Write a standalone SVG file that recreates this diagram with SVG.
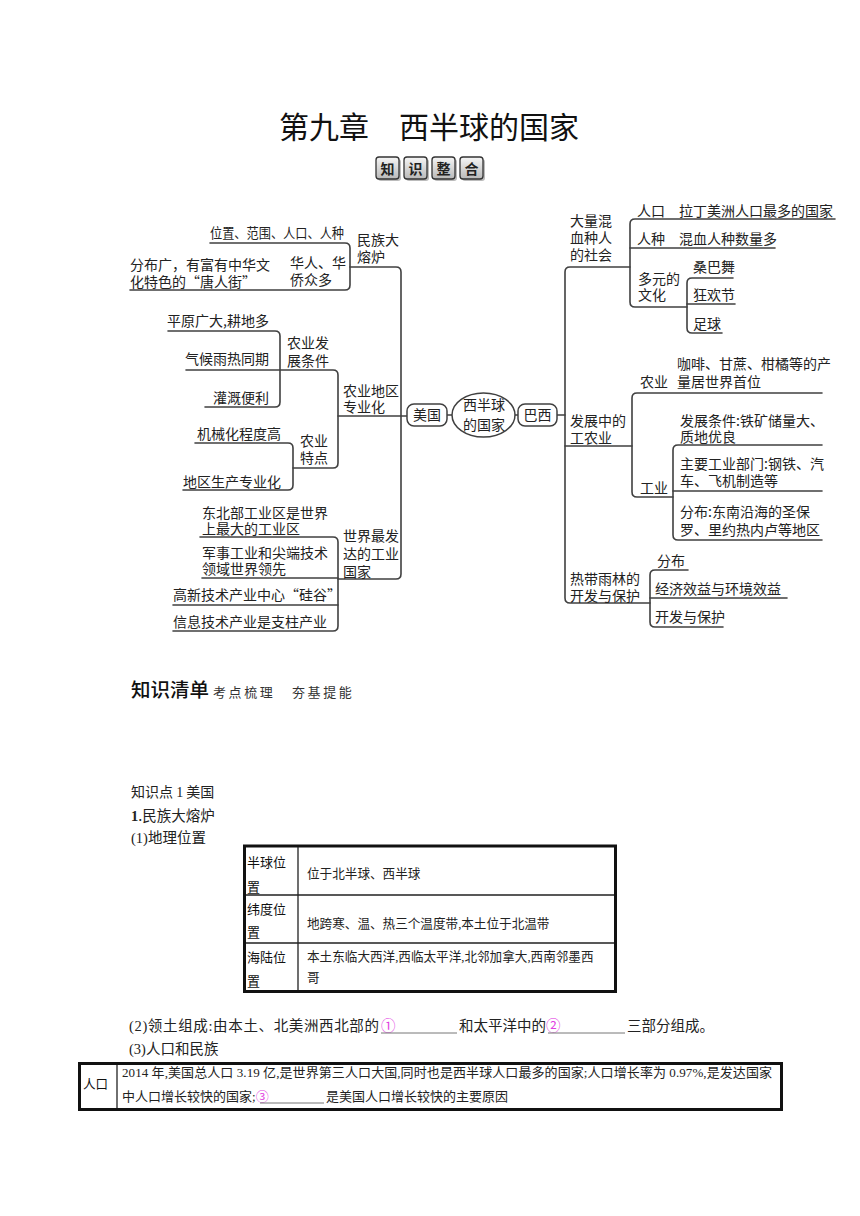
<svg xmlns="http://www.w3.org/2000/svg" width="860" height="1216" viewBox="0 0 860 1216">
<defs>
<linearGradient id="bg" x1="0" y1="0" x2="0" y2="1">
<stop offset="0" stop-color="#f6f6f6"/><stop offset="1" stop-color="#b9b9b9"/>
</linearGradient>
<style>
.t{font-family:"Noto Sans CJK SC","Noto Sans",sans-serif;font-size:14px;fill:#222}
.s{font-family:"Liberation Serif","Noto Sans CJK SC",serif;fill:#222}
.ln{fill:none;stroke:#404040;stroke-width:1.6;stroke-linecap:round;stroke-linejoin:round}
.bx{fill:#fff;stroke:#404040;stroke-width:1.5}
.bd{fill:url(#bg);stroke:#333;stroke-width:1.3}
.sh{fill:#bbb}
.mg{fill:#e23ee2}
.ul{stroke:#777;stroke-width:1}
</style>
</defs>
<rect width="860" height="1216" fill="#fff"/>

<g id="title">
<text x="279" y="138" class="t" style="font-size:30px;fill:#111">第九章　西半球的国家</text>
</g>
<g id="badge">
<rect x="378" y="159" width="23" height="22" rx="3" class="sh"/>
<rect x="406" y="159" width="23" height="22" rx="3" class="sh"/>
<rect x="434" y="159" width="23" height="22" rx="3" class="sh"/>
<rect x="462" y="159" width="23" height="22" rx="3" class="sh"/>
<rect x="376" y="157" width="23" height="22" rx="3" class="bd"/>
<rect x="404" y="157" width="23" height="22" rx="3" class="bd"/>
<rect x="432" y="157" width="23" height="22" rx="3" class="bd"/>
<rect x="460" y="157" width="23" height="22" rx="3" class="bd"/>
<text x="380.5" y="174" class="t" style="font-size:14px;font-weight:bold">知</text>
<text x="408.5" y="174" class="t" style="font-size:14px;font-weight:bold">识</text>
<text x="436.5" y="174" class="t" style="font-size:14px;font-weight:bold">整</text>
<text x="464.5" y="174" class="t" style="font-size:14px;font-weight:bold">合</text>
</g>

<g id="connectors">
<path class="ln" d="M210,243 H345 Q350,243 350,248 V285 Q350,290 345,290 H130"/>
<path class="ln" d="M350,267 H396 Q401,267 401,272 V574 Q401,579 396,579 H338"/>
<path class="ln" d="M168,331 H275 Q280,331 280,336 V402 Q280,407 275,407 H205"/>
<path class="ln" d="M186,370 H333 Q338,370 338,375 V463 Q338,468 333,468 H293"/>
<path class="ln" d="M195,443 H288 Q293,443 293,448 V485 Q293,490 288,490 H183"/>
<path class="ln" d="M338,416 H407"/>
<path class="ln" d="M200,537 H333 Q338,537 338,542 V626 Q338,631 333,631 H173"/>
<path class="ln" d="M202,578 H338"/>
<path class="ln" d="M173,605 H338"/>
<path class="ln" d="M447,415 H452 M515,415 H518 M557,415 H565"/>
<path class="ln" d="M630,267 H570 Q565,267 565,272 V598 Q565,603 570,603 H650"/>
<path class="ln" d="M835,219 H635 Q630,219 630,224 V302 Q630,307 635,307 H687"/>
<path class="ln" d="M630,248 H775"/>
<path class="ln" d="M733,278 H692 Q687,278 687,283 V328 Q687,333 692,333 H722"/>
<path class="ln" d="M687,304 H735"/>
<path class="ln" d="M565,446 H632"/>
<path class="ln" d="M822,393 H637 Q632,393 632,398 V492 Q632,497 637,497 H673"/>
<path class="ln" d="M822,445 H678 Q673,445 673,450 V535 Q673,540 678,540 H822"/>
<path class="ln" d="M673,491 H822"/>
<path class="ln" d="M688,570 H655 Q650,570 650,575 V622 Q650,627 655,627 H723"/>
<path class="ln" d="M650,598 H787"/>
</g>

<g id="n-center">
<ellipse cx="483.5" cy="415" rx="31.5" ry="22" class="bx"/>
<text x="463" y="410" class="t">西半球<tspan x="463" dy="20">的国家</tspan></text>
</g>
<g id="n-usa">
<rect x="407" y="404" width="40" height="22" rx="7" class="bx"/>
<text x="413" y="420" class="t">美国</text>
</g>
<g id="n-brazil">
<rect x="518" y="404" width="39" height="22" rx="7" class="bx"/>
<text x="523.5" y="420" class="t">巴西</text>
</g>

<g id="n-mzdrl"><text x="357" y="245" class="t">民族大<tspan x="357" dy="17">熔炉</tspan></text></g>
<g id="n-wz"><text x="210" y="238" class="t" style="font-size:13.5px" textLength="134" lengthAdjust="spacingAndGlyphs">位置、范围、人口、人种</text></g>
<g id="n-hr"><text x="290" y="268" class="t">华人、华<tspan x="290" dy="17">侨众多</tspan></text></g>
<g id="n-fbg"><text x="130" y="270" class="t">分布广，有富有中华文<tspan x="130" dy="17">化特色的“唐人街”</tspan></text></g>

<g id="n-nydq"><text x="343" y="396" class="t">农业地区<tspan x="343" dy="16">专业化</tspan></text></g>
<g id="n-nyfz"><text x="287" y="348" class="t">农业发<tspan x="287" dy="18">展条件</tspan></text></g>
<g id="n-py"><text x="167" y="326" class="t">平原广大,耕地多</text></g>
<g id="n-qh"><text x="185" y="364" class="t">气候雨热同期</text></g>
<g id="n-gg"><text x="213" y="403" class="t">灌溉便利</text></g>
<g id="n-nytd"><text x="300" y="446" class="t">农业<tspan x="300" dy="17">特点</tspan></text></g>
<g id="n-jx"><text x="197" y="439" class="t">机械化程度高</text></g>
<g id="n-dq"><text x="183" y="487" class="t">地区生产专业化</text></g>

<g id="n-sjzf"><text x="343" y="541" class="t">世界最发<tspan x="343" dy="18">达的工业</tspan><tspan x="343" dy="18">国家</tspan></text></g>
<g id="n-dbb"><text x="202" y="518" class="t">东北部工业区是世界<tspan x="202" dy="16">上最大的工业区</tspan></text></g>
<g id="n-js"><text x="202" y="558" class="t">军事工业和尖端技术<tspan x="202" dy="16">领域世界领先</tspan></text></g>
<g id="n-gx"><text x="173" y="600" class="t">高新技术产业中心“硅谷”</text></g>
<g id="n-xx"><text x="173" y="627" class="t">信息技术产业是支柱产业</text></g>

<g id="n-dlhx"><text x="570" y="226" class="t">大量混<tspan x="570" dy="17">血种人</tspan><tspan x="570" dy="17">的社会</tspan></text></g>
<g id="n-rk"><text x="637" y="216" class="t">人口　拉丁美洲人口最多的国家</text></g>
<g id="n-rz"><text x="637" y="244" class="t">人种　混血人种数量多</text></g>
<g id="n-dy"><text x="638" y="284" class="t">多元的<tspan x="638" dy="16">文化</tspan></text></g>
<g id="n-sbw"><text x="693" y="272" class="t">桑巴舞</text></g>
<g id="n-khj"><text x="693" y="300" class="t">狂欢节</text></g>
<g id="n-zq"><text x="693" y="329" class="t">足球</text></g>

<g id="n-fzz"><text x="570" y="426" class="t">发展中的<tspan x="570" dy="17">工农业</tspan></text></g>
<g id="n-ny"><text x="640" y="387" class="t">农业</text></g>
<g id="n-kf"><text x="677" y="369" class="t">咖啡、甘蔗、柑橘等的产<tspan x="677" dy="18">量居世界首位</tspan></text></g>
<g id="n-gy"><text x="640" y="493" class="t">工业</text></g>
<g id="n-fztj"><text x="680" y="426" class="t">发展条件:铁矿储量大、<tspan x="680" dy="16">质地优良</tspan></text></g>
<g id="n-zygy"><text x="680" y="469" class="t">主要工业部门:钢铁、汽<tspan x="680" dy="17">车、飞机制造等</tspan></text></g>
<g id="n-fb1"><text x="680" y="517" class="t">分布:东南沿海的圣保<tspan x="680" dy="18">罗、里约热内卢等地区</tspan></text></g>

<g id="n-rdyl"><text x="570" y="584" class="t">热带雨林的<tspan x="570" dy="17">开发与保护</tspan></text></g>
<g id="n-fb2"><text x="657" y="566" class="t">分布</text></g>
<g id="n-jj"><text x="655" y="594" class="t">经济效益与环境效益</text></g>
<g id="n-kfbh"><text x="655" y="622" class="t">开发与保护</text></g>

<g id="section">
<text x="131" y="697" class="t" style="font-size:19.5px;font-weight:500;fill:#111">知识清单</text>
<text x="213" y="697" class="t" style="font-size:13px;letter-spacing:2.6px;fill:#333">考点梳理</text>
<text x="292" y="697" class="t" style="font-size:13px;letter-spacing:2.6px;fill:#333">夯基提能</text>
<text x="131" y="797" class="t" style="font-size:14px">知识点 <tspan class="s" style="font-size:14px">1</tspan> 美国</text>
<text x="131" y="821" class="t" style="font-size:14.5px"><tspan class="s" style="font-weight:bold">1</tspan>.民族大熔炉</text>
<text x="131" y="843" class="s" style="font-size:14.5px">(1)地理位置</text>
</g>

<g id="table1">
<rect x="244.5" y="846" width="371" height="145.5" fill="none" stroke="#111" stroke-width="3"/>
<path d="M298,847 V990 M246,895 H614 M246,943 H614" stroke="#222" stroke-width="1.3" fill="none"/>
<g class="t" style="font-size:13px;fill:#111">
<text x="247" y="867">半球位<tspan x="247" dy="25">置</tspan></text>
<text x="247" y="914">纬度位<tspan x="247" dy="23">置</tspan></text>
<text x="247" y="962">海陆位<tspan x="247" dy="24">置</tspan></text>
</g>
<g class="s" style="font-size:12.6px">
<text x="307" y="878">位于北半球、西半球</text>
<text x="307" y="928">地跨寒、温、热三个温度带,本土位于北温带</text>
<text x="307" y="961">本土东临大西洋,西临太平洋,北邻加拿大,西南邻墨西<tspan x="307" dy="21">哥</tspan></text>
</g>
</g>

<g id="text2">
<text x="129" y="1031" class="s" style="font-size:14.5px" textLength="250" lengthAdjust="spacing">(2)领土组成:由本土、北美洲西北部的</text>
<text x="381" y="1031" class="s mg" style="font-size:14.5px">①</text>
<line x1="381" y1="1033" x2="457" y2="1033" class="ul"/>
<text x="459" y="1031" class="s" style="font-size:14.5px">和太平洋中的<tspan class="mg">②</tspan></text>
<line x1="548" y1="1033" x2="625" y2="1033" class="ul"/>
<text x="627" y="1031" class="s" style="font-size:14.5px">三部分组成。</text>
<text x="129" y="1054" class="s" style="font-size:14.5px">(3)人口和民族</text>
</g>

<g id="table2">
<rect x="79.5" y="1063.5" width="702" height="46" fill="none" stroke="#111" stroke-width="3"/>
<path d="M117,1065 V1108" stroke="#222" stroke-width="1.3"/>
<text x="83" y="1089" class="t" style="font-size:12.5px;fill:#111">人口</text>
<text x="122" y="1077" class="s" style="font-size:13px" textLength="650" lengthAdjust="spacing">2014 年,美国总人口 3.19 亿,是世界第三人口大国,同时也是西半球人口最多的国家;人口增长率为 0.97%,是发达国家</text>
<text x="122" y="1101" class="s" style="font-size:13px">中人口增长较快的国家;<tspan class="mg">③</tspan></text>
<line x1="260" y1="1103" x2="324" y2="1103" class="ul"/>
<text x="326" y="1101" class="s" style="font-size:13px">是美国人口增长较快的主要原因</text>
</g>
</svg>
